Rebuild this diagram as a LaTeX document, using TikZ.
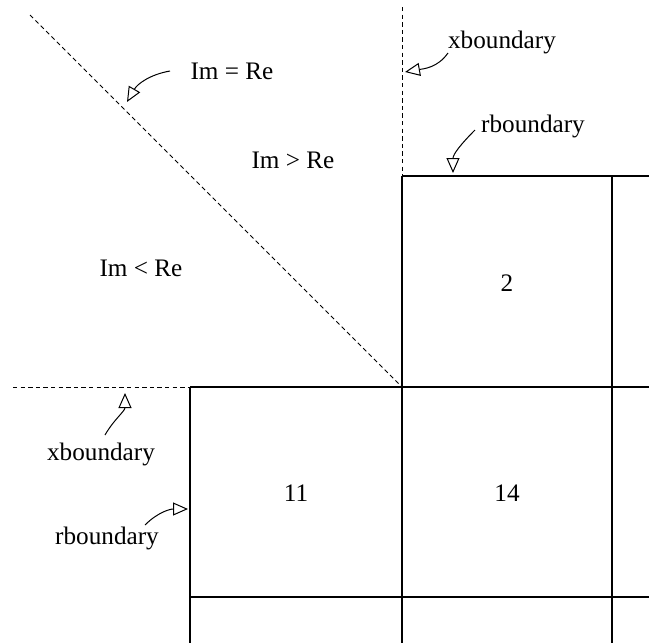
\documentclass[tikz,border=0pt]{standalone}
\usepackage{fontspec}
\setmainfont{Liberation Serif}
\usetikzlibrary{arrows.meta}
\begin{document}
\begin{tikzpicture}[x=0.5pt,y=-0.5pt]
% Styles
\tikzstyle{grille}=[line width=0.6pt]
\tikzstyle{frontiere}=[line width=0.5pt,dash pattern=on 2.2pt off 1.6pt]
\tikzstyle{renvoi}=[line width=0.5pt,-{Triangle[open,length=7.5pt,width=6.5pt,fill=white]}]
\tikzstyle{etiquette}=[inner sep=0pt,font=\fontsize{12.6}{15}\selectfont]
% Dimensions
\def\Xa{190}
\def\Xb{402}
\def\Xc{612}
\def\Ya{176}
\def\Yb{387}
\def\Yc{597}
\useasboundingbox (0,0) rectangle (649,643);
% Coins
\coordinate (D0) at (30,15);
\coordinate (O) at (\Xb,\Yb);
\coordinate (V0) at (\Xb,7);
\coordinate (V1) at (\Xb,\Ya);
\coordinate (H0) at (13,\Yb);
\coordinate (H1) at (\Xa,\Yb);
% Frontieres
\draw[frontiere] (D0)--(O);
\draw[frontiere] (V0)--(V1);
\draw[frontiere] (H0)--(H1);
% Grille
\draw[grille] (V1)--(649,\Ya);
\draw[grille] (\Xc,\Ya)--(\Xc,643);
\draw[grille] (V1)--(\Xb,643);
\draw[grille] (H1)--(649,\Yb);
\draw[grille] (H1)--(\Xa,643);
\draw[grille] (\Xa,\Yc)--(649,\Yc);
% Noeuds
\node[etiquette] (egal) at (232,71) {Im = Re};
\node[etiquette] (sup) at (293,160) {Im > Re};
\node[etiquette] (inf) at (141,268) {Im < Re};
\node[etiquette] (xhaut) at (502,42) {xboundary};
\node[etiquette] (rhaut) at (533,126) {rboundary};
\node[etiquette] (xbas) at (101,454) {xboundary};
\node[etiquette] (rbas) at (107,538) {rboundary};
\node[etiquette] (c2) at (507,283) {2};
\node[etiquette] (c11) at (296,493) {11};
\node[etiquette] (c14) at (507,493) {14};
% Renvois
\coordinate (egalA) at (170,71);
\coordinate (egalB) at (127,102);
\coordinate (xhautA) at (448,53);
\coordinate (xhautB) at (405,72);
\coordinate (rhautA) at (475,130);
\coordinate (rhautB) at (453,173);
\coordinate (xbasA) at (105,435);
\coordinate (xbasB) at (125,393);
\coordinate (rbasA) at (145,525);
\coordinate (rbasB) at (188,509);
\draw[renvoi] (egalA) to[out=190,in=60] (egalB);
\draw[renvoi] (xhautA) to[out=235,in=10] (xhautB);
\draw[renvoi] (rhautA) to[out=225,in=90] (rhautB);
\draw[renvoi] (xbasA) to[out=60,in=270] (xbasB);
\draw[renvoi] (rbasA) to[out=45,in=180] (rbasB);
\end{tikzpicture}
\end{document}
